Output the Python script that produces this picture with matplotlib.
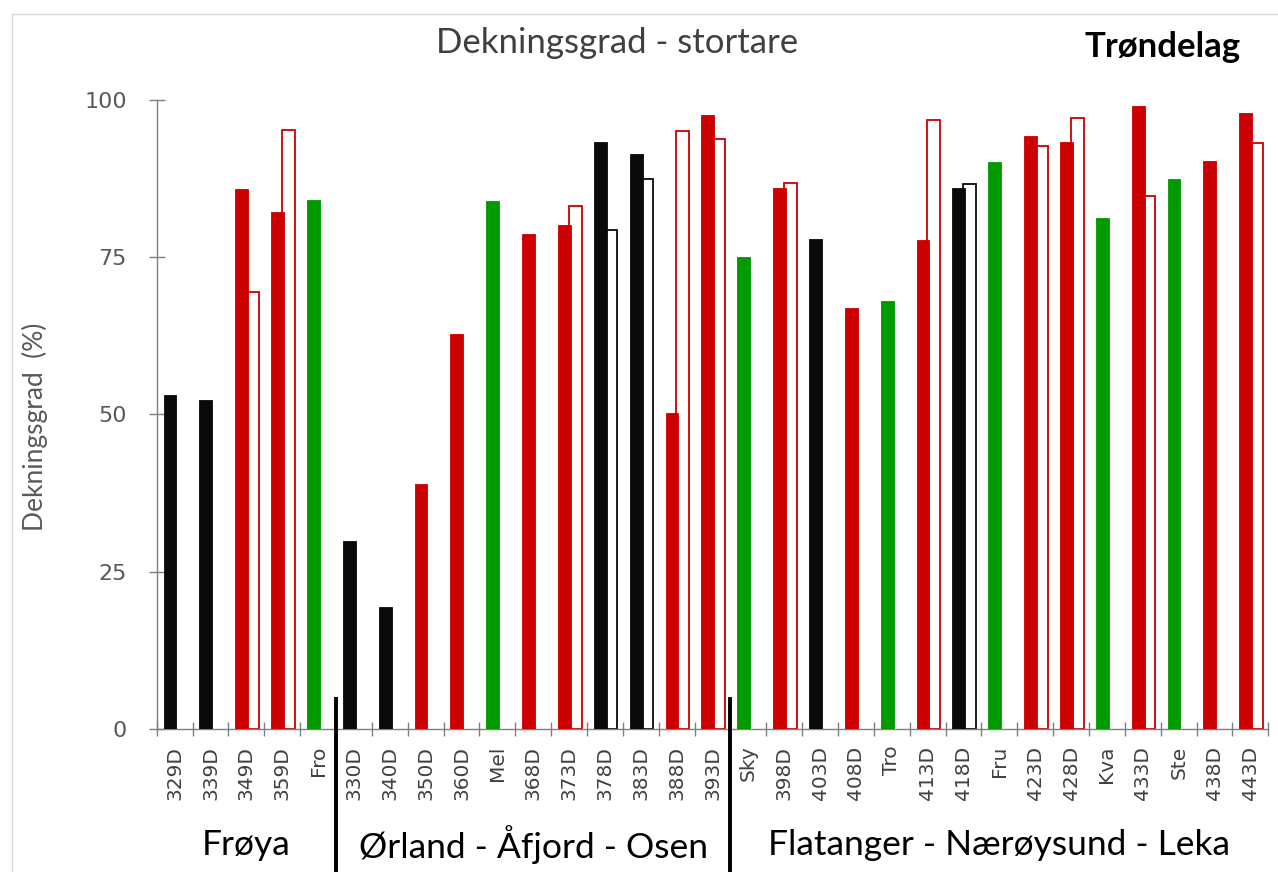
import matplotlib
matplotlib.use("Agg")
import matplotlib.pyplot as plt
import matplotlib.transforms as mtransforms
from matplotlib.patches import Rectangle
from matplotlib.lines import Line2D
import numpy as np

# Categories (grouped by region)
categories = ["329D", "339D", "349D", "359D", "Fro",
              "330D", "340D", "350D", "360D", "Mel", "368D", "373D", "378D", "383D", "388D", "393D",
              "Sky", "398D", "403D", "408D", "Tro", "413D", "418D", "Fru", "423D", "428D", "Kva",
              "433D", "Ste", "438D", "443D"]

# Status code per category: B = black, R = red, G = green
status = ["B", "B", "R", "R", "G",
          "B", "B", "R", "R", "G", "R", "R", "B", "B", "R", "R",
          "G", "R", "B", "R", "G", "R", "B", "G", "R", "R", "G",
          "R", "G", "R", "R"]

# Coverage (%) - current (filled bars)
coverage_now = [53.1, 52.3, 85.8, 82.2, 84.0,
                29.9, 19.4, 38.9, 62.7, 83.9, 78.7, 80.1, 93.2, 91.3, 50.2, 97.5,
                75.0, 85.9, 77.9, 66.9, 68.0, 77.7, 86.0, 90.0, 94.2, 93.2, 81.1,
                99.0, 87.4, 90.3, 97.9]

# Coverage (%) - comparison (outlined bars), None where not available
coverage_prev = [None, None, 69.4, 95.2, None,
                 None, None, None, None, None, None, 83.1, 79.2, 87.4, 95.0, 93.8,
                 None, 86.8, None, None, None, 96.7, 86.5, None, 92.6, 97.0, None,
                 84.7, None, None, 93.1]

groups = ["Frøya", "Ørland - Åfjord - Osen", "Flatanger - Nærøysund - Leka"]
group_sizes = [5, 11, 15]

yticks = [0, 25, 50, 75, 100]

palette = {"B": "#0a0a0a", "R": "#cc0000", "G": "#009900"}

W, H = 1278, 872
fig = plt.figure(figsize=(W / 100, H / 100), dpi=100)
fig.patch.set_facecolor("white")

# Outer frame
fig.add_artist(Rectangle((12 / W, -0.05), 1.2, 1 - 14 / H + 0.05,
                         transform=fig.transFigure, fill=False,
                         edgecolor="#d9d9d9", lw=1.0))

ax_left, ax_right = 156.7 / W, 1268.3 / W
ax_bottom, ax_top = 1 - 729 / H, 1 - 99.5 / H
ax = fig.add_axes([ax_left, ax_bottom, ax_right - ax_left, ax_top - ax_bottom])
ax.set_facecolor("none")

x = np.arange(len(categories))
colors = [palette[s] for s in status]
bw = 0.36

# Outlined comparison bars (drawn under the filled ones)
px = [xi for xi, v in zip(x, coverage_prev) if v is not None]
pv = [v for v in coverage_prev if v is not None]
pc = [c for c, v in zip(colors, coverage_prev) if v is not None]
ax.bar(np.array(px) + 0.17, pv, width=bw, facecolor="white", edgecolor=pc,
       linewidth=1.3, zorder=2)

# Filled current bars
ax.bar(x - 0.13, coverage_now, width=bw, color=colors, edgecolor=colors,
       linewidth=0.6, zorder=3)

ax.set_xlim(-0.5, len(categories) - 0.5)
ax.set_ylim(0, 100)

for side in ("top", "right"):
    ax.spines[side].set_visible(False)
for side in ("left", "bottom"):
    ax.spines[side].set_color("#7f7f7f")
    ax.spines[side].set_linewidth(1.0)

ax.set_yticks(yticks)
ax.set_yticklabels([str(t) for t in yticks], family="DejaVu Sans",
                   fontsize=16, color="#595959")
ax.tick_params(axis="y", direction="inout", length=11, width=1.0,
               color="#7f7f7f", pad=16)

ax.set_xticks(x)
ax.set_xticklabels(categories, rotation=90, family="DejaVu Sans",
                   fontsize=14.5, color="#404040")
ax.tick_params(axis="x", which="major", length=0, pad=12)
ax.set_xticks(np.arange(-0.5, len(categories), 1.0), minor=True)
ax.tick_params(axis="x", which="minor", direction="inout", length=10,
               width=1.0, color="#7f7f7f")

# Region labels and separators
trans = mtransforms.blended_transform_factory(ax.transData, ax.transAxes)
start = 0
for name, size in zip(groups, group_sizes):
    center = start + (size - 1) / 2
    ax.text(center, -0.184, name, transform=trans, ha="center", va="center",
            family="Lato", fontsize=25.5, color="black")
    start += size
    if start < len(categories):
        ax.add_line(Line2D([start - 0.5, start - 0.5], [0.048, -0.3],
                           transform=trans, color="black", lw=2.8,
                           clip_on=False, zorder=5))

fig.text(617 / W, 1 - 43 / H, "Dekningsgrad - stortare", ha="center",
         va="center", family="Lato", fontsize=25, color="#404040")
fig.text(1163 / W, 1 - 47 / H, "Trøndelag", ha="center", va="center",
         family="Lato", fontweight="bold", fontsize=25, color="black")
fig.text(35 / W, 1 - 427 / H, "Dekningsgrad  (%)", ha="center", va="center",
         rotation=90, family="Lato", fontsize=19, color="#595959")

fig.savefig("out.png", dpi=100)
